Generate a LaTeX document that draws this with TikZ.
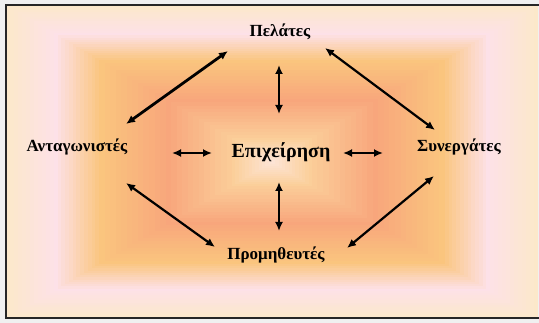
\documentclass[tikz,border=0pt]{standalone}
\usepackage{fontspec}
\setmainfont{Liberation Serif}
\usetikzlibrary{arrows.meta}
\definecolor{gcream}{HTML}{FCE8CA}
\definecolor{gpink}{HTML}{FDE1E8}
\definecolor{gorange}{HTML}{FAC57E}
\definecolor{gsalmon}{HTML}{F8A67C}
\definecolor{glight}{HTML}{FBCF9A}
\definecolor{gcenter}{HTML}{FDE6DA}
\begin{document}
\begin{tikzpicture}[x=1pt,y=-1pt,
  lbl/.style={font=\bfseries\fontsize{17}{20}\selectfont, inner sep=0pt},
  biglbl/.style={font=\bfseries\fontsize{20}{24}\selectfont, inner sep=0pt},
  dbl/.style={{Latex[length=9pt,width=8pt]}-{Latex[length=9pt,width=8pt]}, line width=2.2pt}]
\useasboundingbox (0,0) rectangle (539,323);
\fill[gray!12] (0,0) rectangle (539,323);
\begin{scope}
\clip (6,5) rectangle (545,318);
\foreach \ca/\cb/\ta/\tb in {gcream/gpink/1.0/0.82, gpink/gorange/0.82/0.65, gorange/gsalmon/0.65/0.4, gsalmon/glight/0.4/0.15, glight/gcenter/0.15/0.0} {
  \foreach \k in {0,...,11} {
    \pgfmathsetmacro\tval{\ta+(\tb-\ta)*\k/12}
    \pgfmathsetmacro\pval{100*\k/12}
    \fill[\cb!\pval!\ca] ({272-\tval*266},{162-\tval*157}) rectangle ({272+\tval*266},{162+\tval*157});
  }
}
\end{scope}
\draw[line width=1.6pt, black!85] (6,5) rectangle (545,318);

\node[lbl] (pel) at (280,32) {Πελάτες};
\node[lbl] (ant) at (77,147) {Ανταγωνιστές};
\node[biglbl] (epi) at (281,152) {Επιχείρηση};
\node[lbl] (syn) at (459,147) {Συνεργάτες};
\node[lbl] (pro) at (276,255) {Προμηθευτές};

\coordinate (tl1) at (126,124); \coordinate (tl2) at (228,51);
\coordinate (tr1) at (325,48);  \coordinate (tr2) at (435,130);
\coordinate (vt1) at (279,65);  \coordinate (vt2) at (279,114);
\coordinate (hl1) at (172,153); \coordinate (hl2) at (212,153);
\coordinate (hr1) at (343,153); \coordinate (hr2) at (383,153);
\coordinate (vb1) at (279,182); \coordinate (vb2) at (279,231);
\coordinate (bl1) at (126,183); \coordinate (bl2) at (215,247);
\coordinate (br1) at (347,248); \coordinate (br2) at (434,176);

\draw[dbl, line width=2.8pt] (tl1) -- (tl2);
\draw[dbl] (tr1) -- (tr2);
\draw[dbl] (vt1) -- (vt2);
\draw[dbl] (hl1) -- (hl2);
\draw[dbl] (hr1) -- (hr2);
\draw[dbl] (vb1) -- (vb2);
\draw[dbl] (bl1) -- (bl2);
\draw[dbl] (br1) -- (br2);
\end{tikzpicture}
\end{document}
